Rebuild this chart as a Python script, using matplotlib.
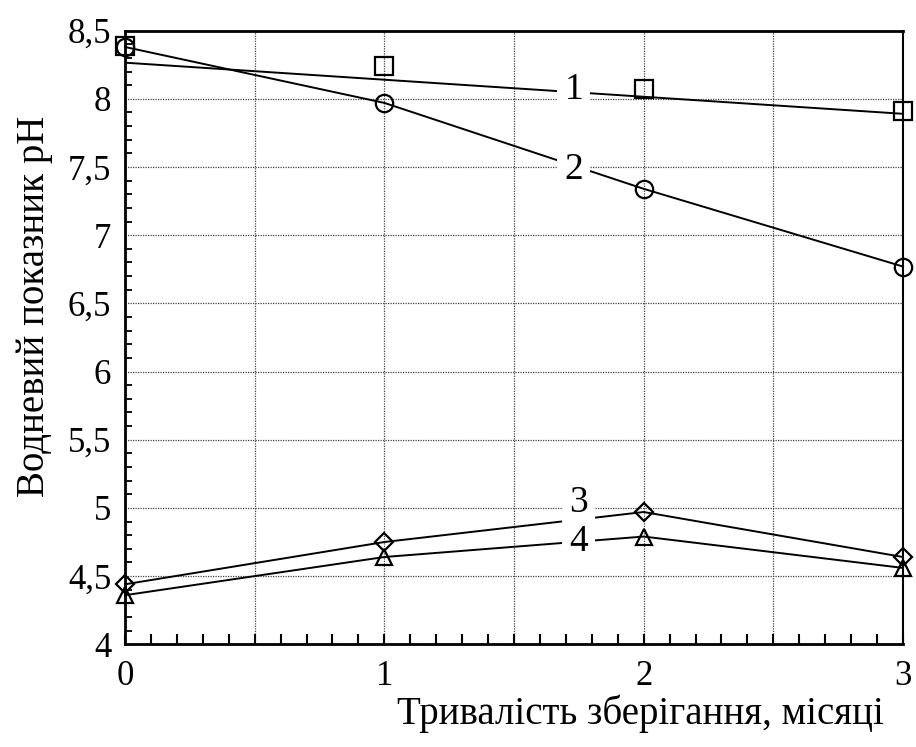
import numpy as np
import matplotlib.pyplot as plt
from matplotlib.ticker import MultipleLocator

plt.rcParams['font.family'] = ['Liberation Serif', 'DejaVu Serif']

months = [0, 1, 2, 3]
ph_1 = [8.39, 8.24, 8.07, 7.91]
ph_2 = [8.38, 7.97, 7.34, 6.77]
ph_3 = [4.44, 4.75, 4.97, 4.64]
ph_4 = [4.36, 4.64, 4.79, 4.56]
# line 1 is a straight trend line, not through the squares
trend_1_x = [0, 3]
trend_1_y = [8.265, 7.89]

curve_labels = ['1', '2', '3', '4']
label_x = [1.73, 1.73, 1.75, 1.75]
label_y = [8.065, 7.48, 5.04, 4.75]

yticks = [4, 4.5, 5, 5.5, 6, 6.5, 7, 7.5, 8, 8.5]
ytick_labels = ['4', '4,5', '5', '5,5', '6', '6,5', '7', '7,5', '8', '8,5']

fig = plt.figure(figsize=(9.16, 7.47), dpi=100)
ax = fig.add_axes([0.1365, 0.1375, 0.8493, 0.8215])

mk = dict(color='black', markerfacecolor='none', markeredgecolor='black',
          markeredgewidth=1.6, lw=1.4, clip_on=False, zorder=3)

ax.plot(trend_1_x, trend_1_y, color='black', lw=1.4, zorder=3)
ax.plot(months, ph_1, ls='none', marker='s', markersize=12.5, **mk)
ax.plot(months, ph_2, marker='o', markersize=12.5, **mk)
ax.plot(months, ph_3, marker='D', markersize=9.5, **mk)
ax.plot(months, ph_4, marker='^', markersize=12, **mk)

for t, tx, ty in zip(curve_labels, label_x, label_y):
    ax.text(tx, ty, t, fontsize=27, ha='center', va='center', zorder=4,
            bbox=dict(facecolor='white', edgecolor='none', pad=5))

ax.set_xlim(0, 3)
ax.set_ylim(4, 8.5)
ax.set_xticks([0, 0.5, 1, 1.5, 2, 2.5, 3])
ax.set_xticklabels(['0', '', '1', '', '2', '', '3'])
ax.xaxis.set_minor_locator(MultipleLocator(0.1))
ax.set_yticks(yticks)
ax.set_yticklabels(ytick_labels)
ax.yaxis.set_minor_locator(MultipleLocator(0.1))

ax.grid(True, which='major', color='#444444', ls=(0, (1, 1)), lw=0.9)
ax.tick_params(axis='x', which='both', direction='in', length=7, width=1.5,
               labelsize=25, pad=11, top=False)
ax.tick_params(axis='y', which='both', direction='in', length=5, width=1.3,
               labelsize=25, pad=10, right=False)
ax.tick_params(axis='y', which='major', length=0)

for s in ['left', 'bottom', 'top']:
    ax.spines[s].set_linewidth(2)
ax.spines['right'].set_linewidth(1.5)

fig.text(0.038, 0.59, 'Водневий показник pH', fontsize=28, rotation=90,
         ha='center', va='center')
fig.text(0.965, 0.045, 'Тривалість зберігання, місяці', fontsize=28,
         ha='right', va='center')

plt.savefig('out.png', dpi=100)
